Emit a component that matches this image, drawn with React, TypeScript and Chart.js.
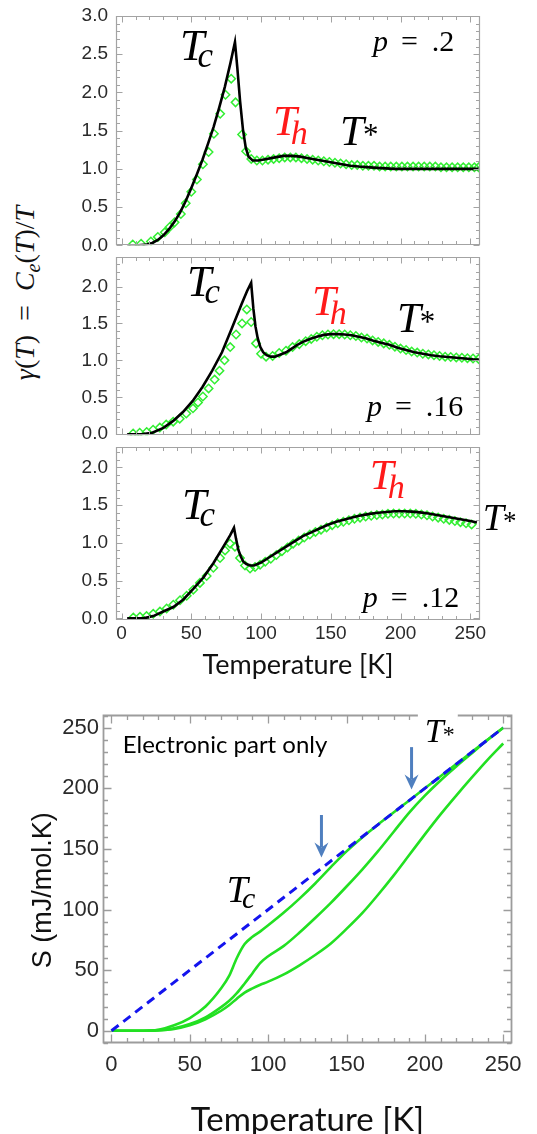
import React, { useEffect, useRef } from "react";
import { Chart, registerables } from "chart.js";

Chart.register(...registerables);

const SERIF = '"Liberation Serif", "DejaVu Serif", serif';
const SANS = '"Liberation Sans", Arial, sans-serif';
const NARROW = '"Liberation Sans Narrow", "Liberation Sans", Arial, sans-serif';
const CALIBRI = 'Lato, "Open Sans", sans-serif';
const GREEN = "#33ee33";
const GREEN_S = "#22e022";

// ---------- axis ticks ----------
const TEMP_TICKS = [0, 50, 100, 150, 200, 250];
const GAMMA_TICKS_HIGH = [0, 0.5, 1, 1.5, 2, 2.5, 3];
const GAMMA_TICKS_LOW = [0, 0.5, 1, 1.5, 2];
const S_TICKS = [0, 50, 100, 150, 200, 250];

// ---------- p = .2 ----------
const P20_LINE_T = [4, 12, 18, 22, 26, 30, 34, 38, 42, 46, 50, 54, 58, 62, 66, 70, 74, 78, 81.3, 83, 85, 87, 89, 91, 94, 98, 104, 110, 116, 122, 128, 134, 140, 146, 152, 158, 164, 170, 178, 186, 196, 210, 225, 240, 256];
const P20_LINE_G = [0, 0, 0.01, 0.03, 0.07, 0.13, 0.21, 0.31, 0.43, 0.58, 0.75, 0.93, 1.12, 1.33, 1.55, 1.8, 2.07, 2.38, 2.66, 2.32, 1.88, 1.52, 1.28, 1.16, 1.11, 1.11, 1.13, 1.15, 1.17, 1.17, 1.16, 1.14, 1.12, 1.1, 1.08, 1.06, 1.04, 1.03, 1.02, 1.01, 1.0, 1.0, 1.0, 1.0, 1.0];
const P20_DATA_T = [8, 14, 21, 26, 31, 34.5, 38, 42.5, 46, 50, 54, 58.3, 62.4, 66.2, 70.7, 74.5, 78.6, 81.7, 86.4, 89.3, 93, 97, 101, 105, 109, 113, 117, 121, 125, 129, 133, 137, 141, 145, 149, 153, 157, 161, 165, 169, 173, 177, 181, 185, 189, 193, 197, 201, 205, 209, 213, 217, 221, 225, 229, 233, 237, 241, 245, 249, 253, 256];
const P20_DATA_G = [0.01, 0.02, 0.05, 0.11, 0.17, 0.24, 0.3, 0.41, 0.55, 0.7, 0.86, 1.06, 1.22, 1.46, 1.72, 1.97, 2.18, 1.87, 1.45, 1.23, 1.13, 1.11, 1.11, 1.12, 1.13, 1.14, 1.15, 1.15, 1.15, 1.14, 1.13, 1.12, 1.11, 1.1, 1.09, 1.08, 1.07, 1.06, 1.05, 1.05, 1.04, 1.04, 1.04, 1.03, 1.03, 1.03, 1.03, 1.03, 1.03, 1.03, 1.03, 1.03, 1.03, 1.03, 1.02, 1.02, 1.02, 1.02, 1.02, 1.02, 1.02, 1.02];

// ---------- p = .16 ----------
const P16_LINE_T = [4, 14, 22, 30, 37, 44, 51, 58, 65, 72, 79, 86, 90, 92.9, 94.5, 96, 97.6, 99.5, 101.5, 104, 107, 110, 114, 118, 122, 126, 130, 135, 140, 145, 150, 155, 160, 165, 170, 175, 180, 186, 192, 198, 204, 210, 216, 222, 228, 234, 240, 246, 252, 257];
const P16_LINE_G = [0, 0, 0.02, 0.085, 0.18, 0.3, 0.45, 0.64, 0.86, 1.11, 1.43, 1.76, 1.94, 2.05, 1.7, 1.46, 1.3, 1.18, 1.11, 1.07, 1.05, 1.05, 1.08, 1.11, 1.16, 1.21, 1.25, 1.29, 1.32, 1.345, 1.355, 1.355, 1.35, 1.34, 1.32, 1.3, 1.27, 1.24, 1.21, 1.17, 1.14, 1.11, 1.09, 1.07, 1.055, 1.045, 1.035, 1.025, 1.015, 1.01];
const P16_DATA_T = [8.3, 13, 18, 22.6, 27.4, 32, 37, 41.7, 46.4, 51.2, 54.8, 58.3, 62.4, 66.7, 70.2, 73.8, 77.9, 82.1, 86.4, 89.8, 92.9, 96.4, 100, 103.6, 108.3, 113, 117.9, 122.6, 127.4, 132, 136, 140, 144, 148, 152, 156, 160, 164, 168, 172, 176, 180, 184, 188, 192, 196, 200, 204, 208, 212, 216, 220, 224, 228, 232, 236, 240, 244, 248, 252, 256];
const P16_DATA_G = [0.01, 0.02, 0.03, 0.06, 0.09, 0.13, 0.17, 0.21, 0.28, 0.35, 0.43, 0.51, 0.62, 0.74, 0.86, 1.0, 1.18, 1.35, 1.5, 1.69, 1.52, 1.23, 1.09, 1.05, 1.06, 1.1, 1.13, 1.18, 1.22, 1.26, 1.29, 1.32, 1.34, 1.35, 1.355, 1.355, 1.35, 1.34, 1.33, 1.31, 1.295, 1.27, 1.25, 1.23, 1.21, 1.185, 1.16, 1.14, 1.12, 1.105, 1.09, 1.08, 1.07, 1.06, 1.05, 1.045, 1.04, 1.035, 1.03, 1.025, 1.02];

// ---------- p = .12 ----------
const P12_LINE_T = [4, 15.6, 22.7, 29.9, 37.1, 44.3, 51.4, 58.6, 65.8, 73, 77.8, 80.6, 82, 83.7, 85.5, 87.3, 89.5, 92, 95, 100, 106, 112, 118, 124, 130, 136, 142, 148, 154, 160, 166, 172, 178, 184, 190, 196, 202, 208, 214, 220, 226, 232, 238, 244, 250, 254.8];
const P12_LINE_G = [0, 0, 0.03, 0.09, 0.15, 0.25, 0.39, 0.54, 0.73, 0.95, 1.1, 1.2, 1.06, 0.91, 0.82, 0.75, 0.72, 0.7, 0.7, 0.74, 0.81, 0.88, 0.95, 1.02, 1.09, 1.14, 1.19, 1.24, 1.28, 1.31, 1.34, 1.365, 1.385, 1.4, 1.41, 1.42, 1.42, 1.415, 1.405, 1.39, 1.37, 1.35, 1.33, 1.31, 1.29, 1.27];
const P12_DATA_T = [8.4, 13.2, 17.9, 22.7, 27.5, 32.3, 37.1, 41.9, 46.7, 51.4, 56.2, 61, 65.8, 70.6, 74.2, 77.8, 81.3, 84.9, 88.5, 92.1, 95.7, 99.3, 103, 107, 111, 115, 119, 123, 127, 131, 135, 139, 143, 147, 151, 155, 159, 163, 167, 171, 175, 179, 183, 187, 191, 195, 199, 203, 207, 211, 215, 219, 223, 227, 231, 235, 239, 243, 247, 251];
const P12_DATA_G = [0.01, 0.02, 0.03, 0.06, 0.09, 0.13, 0.18, 0.24, 0.3, 0.38, 0.47, 0.56, 0.67, 0.8, 0.9, 0.99, 0.95, 0.8, 0.7, 0.66, 0.68, 0.71, 0.75, 0.79, 0.84, 0.89, 0.94, 0.99, 1.03, 1.07, 1.11, 1.145, 1.175, 1.205, 1.235, 1.26, 1.28, 1.3, 1.32, 1.335, 1.35, 1.36, 1.37, 1.375, 1.385, 1.39, 1.39, 1.39, 1.39, 1.385, 1.375, 1.365, 1.35, 1.335, 1.32, 1.305, 1.29, 1.275, 1.26, 1.245];

// ---------- entropy ----------
const ENTROPY_T = [0, 10, 20, 30, 40, 50, 60, 70, 75, 80, 85, 90, 95, 100, 110, 120, 130, 140, 150, 160, 170, 180, 190, 200, 210, 220, 230, 240, 250];
const S_P20 = [0, 0, 0, 0.8, 4.5, 10.5, 20, 35, 45, 60, 71.5, 77.5, 82, 87, 97.5, 109, 121.5, 135, 148, 159.5, 170, 180, 190, 200, 210, 220, 230, 240, 250];
const S_P16 = [0, 0, 0, 0.5, 2, 5.5, 11, 19.5, 24.5, 31, 39, 47.5, 56, 61.5, 70, 81, 93, 105.5, 119, 133, 148, 164, 180, 194, 206.5, 218, 229, 240, 250];
const S_P12 = [0, 0, 0, 0.3, 1.5, 4.5, 9.5, 16.5, 21, 26.5, 31.5, 35, 38, 40.5, 46.5, 54, 62.5, 72, 84, 97, 112, 128, 145, 162, 178.5, 194, 209, 223.5, 237];
const S_NORMAL_T = [0, 250];
const S_NORMAL = [0, 250];

// ---------- plugins ----------
const framePlugin: any = {
  id: "mmaFrame",
  afterDatasetsDraw(chart: any, _a: any, o: any) {
    if (!o || !o.enabled) return;
    const { ctx, chartArea: a } = chart;
    const xs = chart.scales.x;
    const ys = chart.scales.y;
    const L = Math.round(a.left) + 0.5;
    const R = Math.round(a.right) - 0.5;
    const T = Math.round(a.top) + 0.5;
    const B = Math.round(a.bottom) - 0.5;
    ctx.save();
    ctx.strokeStyle = o.color;
    ctx.lineWidth = o.width;
    ctx.beginPath();
    ctx.rect(L, T, R - L, B - T);
    ctx.stroke();
    ctx.lineWidth = o.tickWidth || 1;
    ctx.beginPath();
    const xr = Math.round(o.xMajor / o.xMinor);
    for (let i = Math.ceil(xs.min / o.xMinor); i * o.xMinor <= xs.max + 1e-9; i++) {
      const len = i % xr === 0 ? o.majorLen : o.minorLen;
      const px = Math.round(xs.getPixelForValue(i * o.xMinor)) + 0.5;
      ctx.moveTo(px, B);
      ctx.lineTo(px, B - len);
      ctx.moveTo(px, T);
      ctx.lineTo(px, T + len);
    }
    const yr = Math.round(o.yMajor / o.yMinor);
    for (let i = Math.ceil(ys.min / o.yMinor - 1e-9); i * o.yMinor <= ys.max + 1e-9; i++) {
      const len = i % yr === 0 ? o.majorLen : o.minorLen;
      const py = Math.round(ys.getPixelForValue(i * o.yMinor)) + 0.5;
      ctx.moveTo(L, py);
      ctx.lineTo(L + len, py);
      ctx.moveTo(R, py);
      ctx.lineTo(R - len, py);
    }
    ctx.stroke();
    ctx.restore();
  },
};

function setFont(ctx: any, p: any) {
  ctx.font = `${p.italic ? "italic " : ""}${p.size}px ${p.family || SERIF}`;
}

const textPlugin: any = {
  id: "mmaText",
  afterDraw(chart: any, _a: any, o: any) {
    if (!o || !o.items) return;
    const ctx = chart.ctx;
    const xs = chart.scales.x;
    const ys = chart.scales.y;
    ctx.save();
    ctx.textBaseline = "alphabetic";
    ctx.textAlign = "left";
    for (const it of o.items) {
      const x0 = xs.getPixelForValue(it.x);
      const y0 = ys.getPixelForValue(it.y);
      if (it.bg) {
        let w = 0;
        for (const p of it.parts) {
          setFont(ctx, p);
          w += (p.dx || 0) + ctx.measureText(p.t).width;
        }
        ctx.fillStyle = "#fff";
        ctx.fillRect(x0 - 7, y0 - 31, w + 10, 33);
      }
      let cx = x0;
      for (const p of it.parts) {
        setFont(ctx, p);
        ctx.fillStyle = p.color || it.color || "#000";
        cx += p.dx || 0;
        ctx.fillText(p.t, cx, y0 + (p.dy || 0));
        cx += ctx.measureText(p.t).width;
      }
    }
    ctx.restore();
  },
};

const arrowPlugin: any = {
  id: "mmaArrows",
  afterDraw(chart: any, _a: any, o: any) {
    if (!o || !o.items) return;
    const ctx = chart.ctx;
    const xs = chart.scales.x;
    const ys = chart.scales.y;
    ctx.save();
    ctx.strokeStyle = o.color;
    ctx.fillStyle = o.color;
    for (const it of o.items) {
      const px = xs.getPixelForValue(it.x);
      const y1 = ys.getPixelForValue(it.from);
      const y2 = ys.getPixelForValue(it.to);
      ctx.lineWidth = 3;
      ctx.beginPath();
      ctx.moveTo(px, y1);
      ctx.lineTo(px, y2 - 10);
      ctx.stroke();
      ctx.beginPath();
      ctx.moveTo(px - 7, y2 - 15);
      ctx.lineTo(px, y2 - 10);
      ctx.lineTo(px + 7, y2 - 15);
      ctx.lineTo(px, y2);
      ctx.closePath();
      ctx.fill();
    }
    ctx.restore();
  },
};

// ---------- text helpers ----------
const subLabel = (x: number, y: number, sub: string, color: string, size = 44, subDx = -7, subDy = 7) => ({
  x,
  y,
  color,
  parts: [
    { t: "T", size, italic: true },
    { t: sub, size: Math.round(size * 0.8), italic: true, dx: subDx, dy: subDy },
  ],
});
const starLabel = (x: number, y: number, size = 43, bg = false) => ({
  x,
  y,
  bg,
  parts: [
    { t: "T", size, italic: true },
    { t: "*", size: Math.round(size * 0.72), dx: -1, dy: 0 },
  ],
});
const pLabel = (x: number, y: number, val: string) => ({
  x,
  y,
  parts: [
    { t: "p", size: 30, italic: true },
    { t: "=", size: 30, dx: 13 },
    { t: val, size: 30, dx: 14 },
  ],
});

const TOP_X_MIN = -4;
const TOP_X_MAX = 257;

function topPanelConfig(p: any) {
  return {
    type: "scatter",
    data: {
      datasets: [
        {
          label: "model",
          data: p.lineT.map((t: number, i: number) => ({ x: t, y: p.lineG[i] })),
          showLine: true,
          borderColor: "#000",
          borderWidth: 2.6,
          pointRadius: 0,
          tension: 0,
        },
        {
          label: "data",
          data: p.dataT.map((t: number, i: number) => ({ x: t, y: p.dataG[i] })),
          showLine: false,
          pointStyle: "rectRot",
          pointRadius: 4.2,
          pointBorderWidth: 1.5,
          pointBorderColor: GREEN,
          pointBackgroundColor: "rgba(0,0,0,0)",
        },
      ],
    },
    options: {
      animation: false,
      responsive: false,
      events: [],
      layout: { padding: { left: 0, right: 57, top: p.padTop, bottom: p.padBottom } },
      plugins: {
        legend: { display: false },
        tooltip: { enabled: false },
        mmaFrame: { enabled: true, color: "#a3a3a3", width: 1.2, tickWidth: 1, xMajor: 50, xMinor: 10, yMajor: 0.5, yMinor: 0.1, majorLen: 6, minorLen: 3.5 },
        mmaText: { items: p.texts },
      },
      scales: {
        x: {
          type: "linear",
          min: TOP_X_MIN,
          max: TOP_X_MAX,
          display: p.showX,
          grid: { display: false, drawTicks: false },
          border: { display: false },
          afterBuildTicks: (s: any) => {
            s.ticks = TEMP_TICKS.map((v) => ({ value: v }));
          },
          afterFit: (s: any) => {
            s.height = p.showX ? 70 : 0;
            s.paddingLeft = 0;
            s.paddingRight = 0;
          },
          ticks: {
            autoSkip: false,
            maxRotation: 0,
            padding: 2,
            color: "#2a2a2a",
            font: { family: SANS, size: 19 },
            callback: (v: any) => String(v),
          },
          title: {
            display: p.showX,
            text: "Temperature [K]",
            color: "#111",
            font: { family: CALIBRI, size: 27, lineHeight: 1.1 },
            padding: { top: 0, bottom: 10 },
          },
        },
        y: {
          type: "linear",
          min: p.yMin,
          max: p.yMax,
          grid: { display: false, drawTicks: false },
          border: { display: false },
          afterBuildTicks: (s: any) => {
            s.ticks = p.yTicks.map((v: number) => ({ value: v }));
          },
          afterFit: (s: any) => {
            s.width = 116;
            s.paddingTop = 0;
            s.paddingBottom = 0;
          },
          ticks: {
            autoSkip: false,
            padding: 8,
            color: "#2a2a2a",
            font: { family: SANS, size: 19 },
            callback: (v: any) => Number(v).toFixed(1),
          },
        },
      },
    },
    plugins: [framePlugin, textPlugin],
  };
}

function entropyConfig() {
  const line = (t: number[], s: number[], label: string) => ({
    label,
    data: t.map((x, i) => ({ x, y: s[i] })),
    showLine: true,
    borderColor: GREEN_S,
    borderWidth: 2.6,
    pointRadius: 0,
    cubicInterpolationMode: "monotone",
  });
  return {
    type: "scatter",
    data: {
      datasets: [
        {
          label: "normal state",
          data: S_NORMAL_T.map((x, i) => ({ x, y: S_NORMAL[i] })),
          showLine: true,
          borderColor: "#1414ee",
          borderWidth: 3,
          borderDash: [9, 6],
          pointRadius: 0,
        },
        line(ENTROPY_T, S_P20, "p=.2"),
        line(ENTROPY_T, S_P16, "p=.16"),
        line(ENTROPY_T, S_P12, "p=.12"),
      ],
    },
    options: {
      animation: false,
      responsive: false,
      events: [],
      layout: { padding: { left: 0, right: 25, top: 25, bottom: 0 } },
      plugins: {
        legend: { display: false },
        tooltip: { enabled: false },
        mmaFrame: { enabled: true, color: "#9c9c9c", width: 1.8, tickWidth: 1.3, xMajor: 50, xMinor: 10, yMajor: 50, yMinor: 10, majorLen: 8, minorLen: 4.5 },
        mmaText: {
          items: [
            { x: 7.2, y: 229, parts: [{ t: "Electronic part only", size: 24, family: CALIBRI }] },
            subLabel(73.6, 106, "c", "#000", 38, -6, 6),
            starLabel(200, 238, 34, true),
          ],
        },
        mmaArrows: {
          color: "#4f7fbf",
          items: [
            { x: 134, from: 178, to: 143 },
            { x: 191.5, from: 234, to: 199 },
          ],
        },
      },
      scales: {
        x: {
          type: "linear",
          min: -5.4,
          max: 255.6,
          grid: { display: false, drawTicks: false },
          border: { display: false },
          afterBuildTicks: (s: any) => {
            s.ticks = TEMP_TICKS.map((v) => ({ value: v }));
          },
          afterFit: (s: any) => {
            s.height = 91;
            s.paddingLeft = 0;
            s.paddingRight = 0;
          },
          ticks: {
            autoSkip: false,
            maxRotation: 0,
            padding: 9,
            color: "#2a2a2a",
            font: { family: NARROW, size: 22 },
            callback: (v: any) => String(v),
          },
          title: {
            display: true,
            text: "Temperature [K]",
            color: "#111",
            font: { family: CALIBRI, size: 33, lineHeight: 0.85 },
            padding: { top: 0, bottom: 0 },
          },
        },
        y: {
          type: "linear",
          min: -10.1,
          max: 260.5,
          grid: { display: false, drawTicks: false },
          border: { display: false },
          afterBuildTicks: (s: any) => {
            s.ticks = S_TICKS.map((v) => ({ value: v }));
          },
          afterFit: (s: any) => {
            s.width = 103;
            s.paddingTop = 0;
            s.paddingBottom = 0;
          },
          ticks: {
            autoSkip: false,
            padding: 4,
            color: "#2a2a2a",
            font: { family: NARROW, size: 22 },
            callback: (v: any) => String(v),
          },
          title: {
            display: true,
            text: "S (mJ/mol.K)   ",
            color: "#111",
            font: { family: SANS, size: 27 },
            padding: { top: 27, bottom: 0 },
          },
        },
      },
    },
    plugins: [framePlugin, textPlugin, arrowPlugin],
  };
}

function ChartCanvas({ make, top, height }: { make: () => any; top: number; height: number }) {
  const ref = useRef<HTMLCanvasElement | null>(null);
  useEffect(() => {
    if (!ref.current) return;
    const chart = new Chart(ref.current, make());
    return () => chart.destroy();
  }, []);
  return (
    <canvas
      ref={ref}
      width={537}
      height={height}
      style={{ position: "absolute", left: 0, top, width: 537, height, display: "block" }}
    />
  );
}

export default function App() {
  const panel1 = () =>
    topPanelConfig({
      lineT: P20_LINE_T, lineG: P20_LINE_G, dataT: P20_DATA_T, dataG: P20_DATA_G,
      yMin: 0, yMax: 3, yTicks: GAMMA_TICKS_HIGH, padTop: 16, padBottom: 1, showX: false,
      texts: [
        subLabel(41.9, 2.42, "c", "#000"),
        subLabel(108.5, 1.44, "h", "#ff1a1a", 43, -6, 9),
        starLabel(156.6, 1.31),
        pLabel(180.2, 2.54, ".2"),
      ],
    });
  const panel2 = () =>
    topPanelConfig({
      lineT: P16_LINE_T, lineG: P16_LINE_G, dataT: P16_DATA_T, dataG: P16_DATA_G,
      yMin: -0.015, yMax: 2.404, yTicks: GAMMA_TICKS_LOW, padTop: 1, padBottom: 1.5, showX: false,
      texts: [
        subLabel(46.9, 1.87, "c", "#000"),
        subLabel(136.5, 1.62, "h", "#ff1a1a", 43, -6, 9),
        starLabel(197.4, 1.38),
        pLabel(175.9, 0.24, ".16"),
      ],
    });
  const panel3 = () =>
    topPanelConfig({
      lineT: P12_LINE_T, lineG: P12_LINE_G, dataT: P12_DATA_T, dataG: P12_DATA_G,
      yMin: -0.022, yMax: 2.275, yTicks: GAMMA_TICKS_LOW, padTop: 1, padBottom: 0, showX: true,
      texts: [
        subLabel(43.3, 1.32, "c", "#000"),
        subLabel(178, 1.72, "h", "#ff1a1a", 43, -6, 9),
        starLabel(259, 1.165, 38),
        pLabel(173, 0.15, ".12"),
      ],
    });

  return (
    <div style={{ position: "absolute", left: 0, top: 0, width: 537, height: 1134, background: "#fff", overflow: "hidden" }}>
      <div
        style={{
          position: "absolute",
          left: 27,
          top: 293,
          transform: "translate(-50%, -50%) rotate(-90deg)",
          fontFamily: SERIF,
          fontSize: 28,
          whiteSpace: "nowrap",
          color: "#111",
          lineHeight: 1,
        }}
      >
        <i>γ</i>(<i>T</i>)&#8194;=&#8194;<i>C</i>
        <sub style={{ fontSize: "0.72em", fontStyle: "italic" }}>e</sub>(<i>T</i>)/<i>T</i>
      </div>
      <ChartCanvas make={panel1} top={0} height={251} />
      <ChartCanvas make={panel2} top={251} height={190} />
      <ChartCanvas make={panel3} top={441} height={249} />
      <ChartCanvas make={entropyConfig} top={690} height={444} />
    </div>
  );
}
